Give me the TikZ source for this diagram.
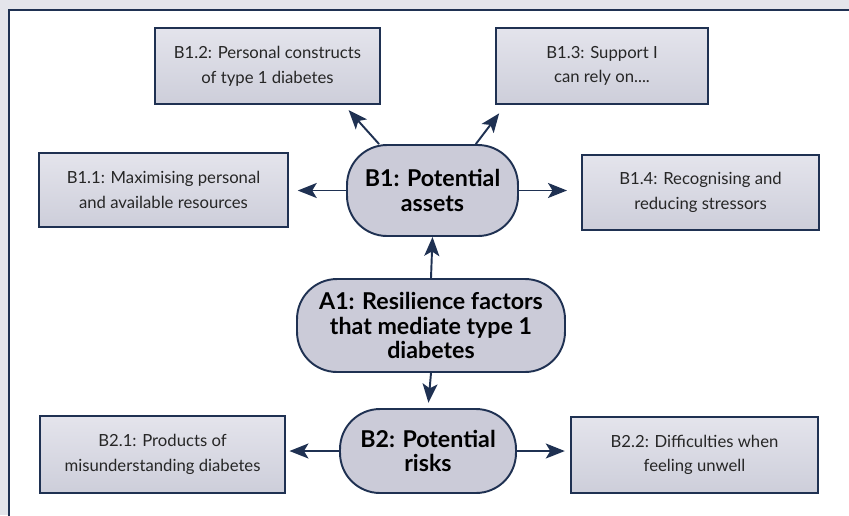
\documentclass[tikz,border=0pt]{standalone}
\usepackage{fontspec}
\setmainfont{Lato}
\usetikzlibrary{arrows.meta}

\definecolor{navy}{HTML}{1F3152}
\definecolor{pagegray}{HTML}{E4E5EB}
\definecolor{boxtop}{HTML}{E4E4EC}
\definecolor{boxbot}{HTML}{CDCEDA}
\definecolor{pillfill}{HTML}{CBCBD8}
\definecolor{txtgray}{HTML}{262626}

\begin{document}
\begin{tikzpicture}[x=0.02cm, y=-0.02cm,
  factor/.style={draw=navy, line width=1.1pt, top color=boxtop, bottom color=boxbot,
    text=txtgray, align=center, inner sep=0pt, font=\fontsize{9.5}{14}\selectfont},
  theme/.style={draw=navy, line width=1.1pt, fill=pillfill, rounded corners=0.8cm,
    align=center, inner sep=0pt, font=\bfseries\fontsize{13.2}{14}\selectfont},
  link/.style={draw=navy, line width=1.1pt, -{Stealth[length=0.38cm, width=0.3cm, inset=0.09cm]}}]
  \useasboundingbox (0,0) rectangle (849,515);
  \fill[pagegray] (0,0) rectangle (849,515);
  \draw[navy, line width=0.8pt, fill=white] (9,10) rectangle (870,540);

  \node[theme, minimum width=3.42cm, minimum height=1.82cm] (b1) at (432.5,190.5) {B1: Potential\\assets};
  \node[theme, minimum width=5.36cm, minimum height=1.86cm] (a1) at (431,325.5) {A1: Resilience factors\\that mediate type 1\\diabetes};
  \node[theme, minimum width=3.52cm, minimum height=1.68cm] (b2) at (428,451) {B2: Potential\\risks};

  \node[factor, minimum width=4.98cm, minimum height=1.48cm] (b11) at (163.5,190) {B1.1: Maximising personal\\and available resources};
  \node[factor, minimum width=4.5cm, minimum height=1.52cm] (b12) at (267.5,66) {B1.2: Personal constructs\\of type 1 diabetes};
  \node[factor, minimum width=4.24cm, minimum height=1.52cm] (b13) at (602,66) {B1.3: Support I\\can rely on....};
  \node[factor, minimum width=4.74cm, minimum height=1.5cm] (b14) at (700.5,192.5) {B1.4: Recognising and\\reducing stressors};
  \node[factor, minimum width=4.9cm, minimum height=1.54cm] (b21) at (162.5,454.5) {B2.1: Products of\\misunderstanding diabetes};
  \node[factor, minimum width=4.94cm, minimum height=1.52cm] (b22) at (694.5,455) {B2.2: Difficulties when\\feeling unwell};

  \draw[link] (a1.north) -- (b1.south);
  \draw[link, shorten >=3] (a1.south) -- (b2.north);
  \draw[link, shorten >=4] (b1.139) -- (b12.-27);
  \draw[link, shorten >=6] (b1.47) -- (b13.-158);
  \draw[link, shorten >=5] (b1.west) -- (b1.west -| b11.east);
  \draw[link, shorten >=8] (b1.east) -- (b1.east -| b14.west);
  \draw[link, shorten >=2] (b2.west) -- (b2.west -| b21.east);
  \draw[link, shorten >=3] (b2.east) -- (b2.east -| b22.west);
\end{tikzpicture}
\end{document}
